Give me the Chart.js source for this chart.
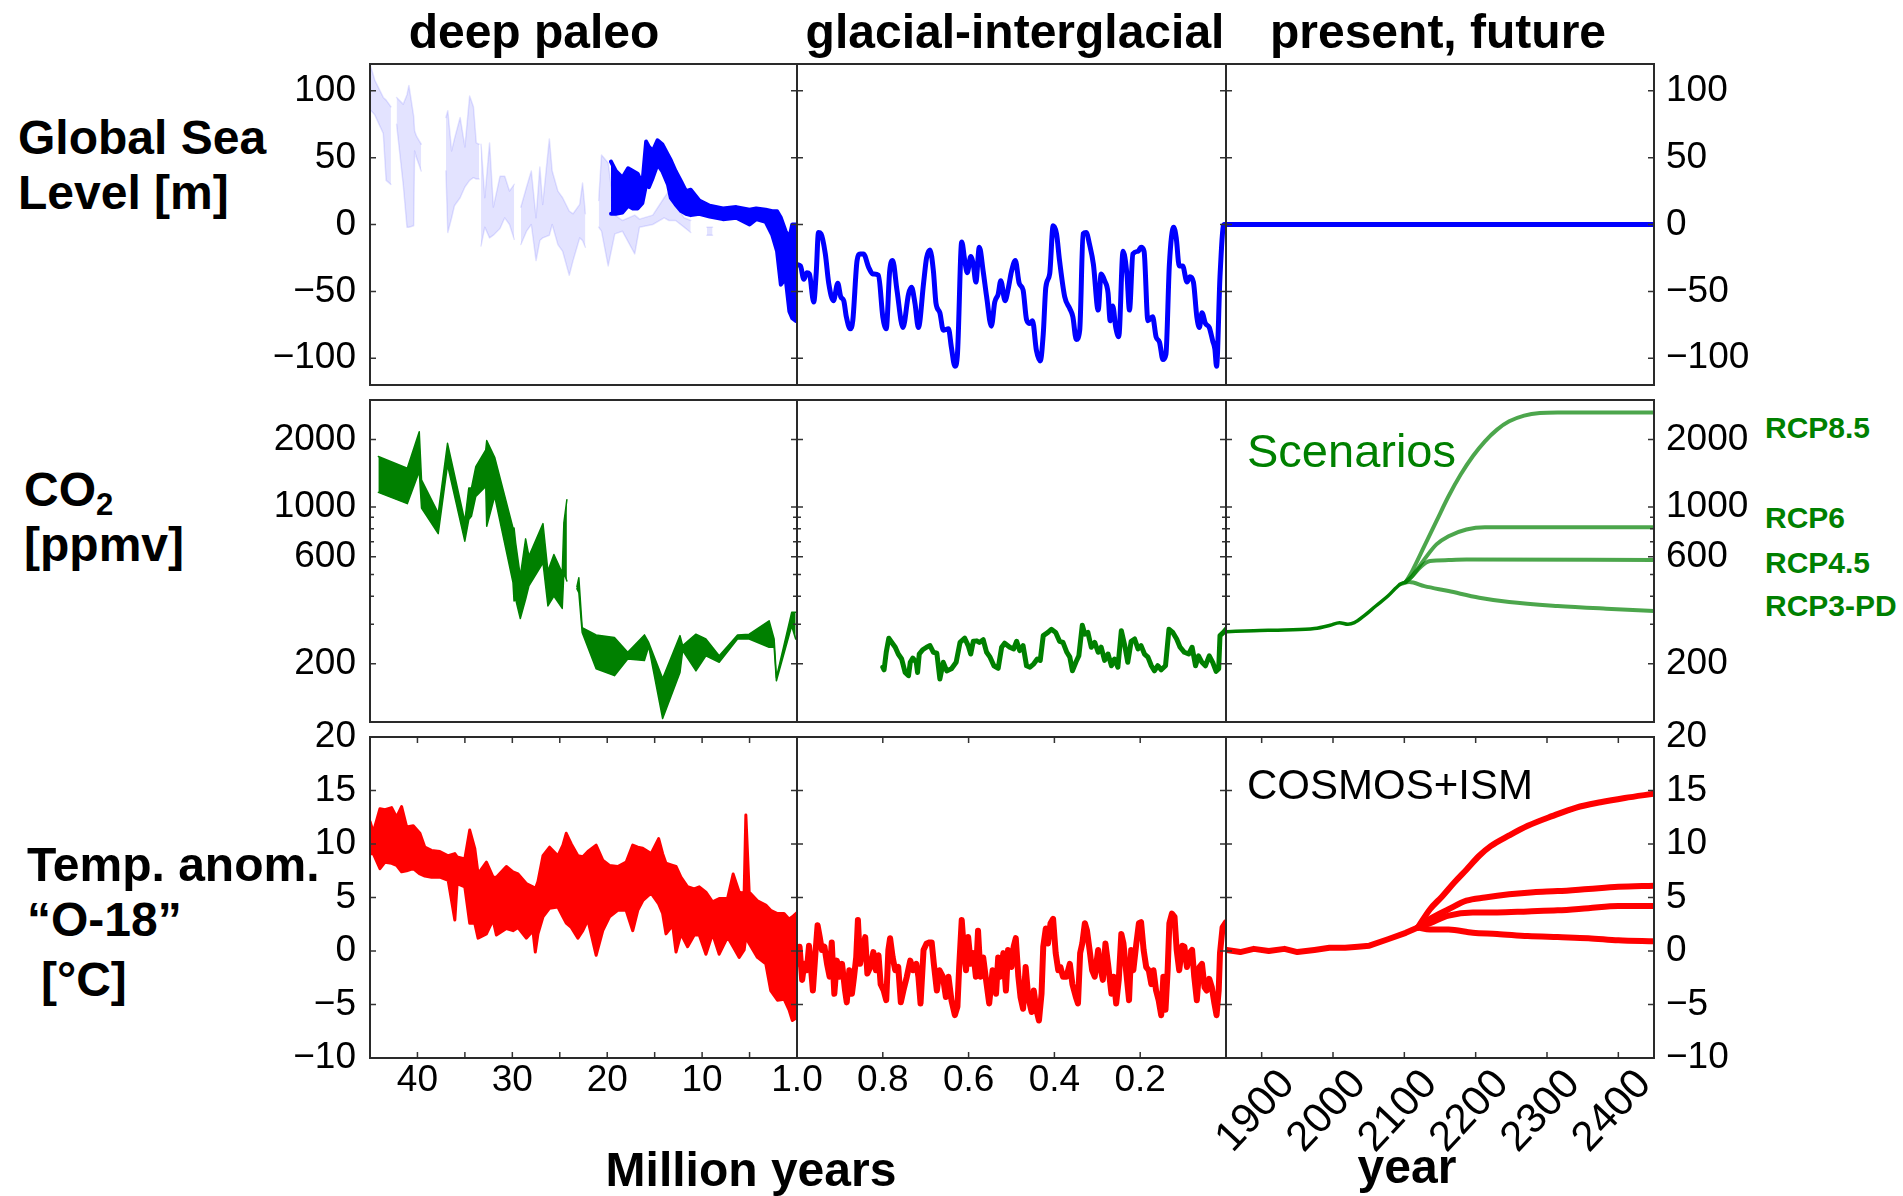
<!DOCTYPE html>
<html>
<head>
<meta charset="utf-8">
<script src="https://cdn.jsdelivr.net/npm/chart.js@4.4.1/dist/chart.umd.min.js"></script>
<style>
  body { margin: 0; background: #fff; width: 1903px; height: 1196px; position: relative; overflow: hidden;
         font-family: 'Liberation Sans', Arial, sans-serif; }
  .panel { position: absolute; }
  .lbl { position: absolute; white-space: nowrap; line-height: 1; }
</style>
</head>
<body>
<script>
// ---------- tick lists ----------
const seaTicks = [-100, -50, 0, 50, 100];
const co2Ticks = [200, 300, 400, 500, 600, 700, 800, 900, 1000, 2000];
const co2Labels = [200, 600, 1000, 2000];
const tempTicks = [-10, -5, 0, 5, 10, 15, 20];
const myrTicks = [5, 10, 15, 20, 25, 30, 35, 40];
const kyrTicks = [0.2, 0.4, 0.6, 0.8, 1.0];
const yearTicks = [1900, 2000, 2100, 2200, 2300, 2400];

// ---------- sea level ----------
// deep paleo, faint reconstruction band (Myr, m); null = gap
const seaPaleoAge = [45.0, 44.5, 43.6, 43.3, 42.8, 42.5, 42.2, 41.5, 41.1, 40.9, 40.4, 40.3, 40.1, 39.6, 38.3,
  37.0, 36.8, 36.4, 36.1, 35.5, 35.0, 34.5, 34.1, 33.8, 33.5, 33.4, 33.3, 32.9, 32.4, 32.0, 31.3, 30.8, 30.3, 29.8, 29.5,
  29.1, 28.5, 28.0, 27.5, 27.1, 26.8, 26.1, 25.8, 25.2, 24.7, 24.0, 23.6, 22.9, 22.6, 22.3, 21.5,
  20.9, 20.6, 19.9, 19.2, 18.4, 17.1, 16.6, 15.2, 14.0, 13.5, 12.8, 11.9, 11.2, 10.5, 9.5, 8.9];
const seaPaleoHi = [120, 108, 95, 93, 88, null, 95, 90, 97, 104, 81, 70, 66, 60, null,
  80, 85, 55, 64, 80, 58, 96, 88, 61, 60, null, 60, 20, 61, 13, 36, 36, 25, 30, null,
  13, 28, 40, 5, 43, 15, 64, 40, 25, 20, 10, 8, 15, 31, 8, null,
  18, 52, 46, 7, 3, 7, 4, 7, 20, 25, 15, 5, 3, null, -2, -2];
const seaPaleoLo = [86, 82, 68, 33, 30, null, 75, 30, -2, -2, -1, 55, 50, 40, null,
  40, -6, 5, 14, 20, 28, 33, 35, 34, 34, null, -16, -2, -10, -8, -3, 5, 0, -11, null,
  -15, -5, 0, -27, -12, -10, -8, 0, -15, -20, -38, -27, -10, -12, -17, null,
  -2, -5, -31, -7, -5, -22, -2, 0, 5, 3, 3, -2, -6, null, -8, -8];
// deep paleo, model band
const seaDeepAge = [19.6, 19.1, 18.4, 17.8, 17.3, 16.8, 16.3, 15.9, 15.6, 15.2, 14.7, 14.2, 13.6, 13.3, 12.8, 12.2,
  11.7, 11.2, 10.3, 9.2, 7.8, 6.4, 5.0, 4.3, 3.3, 2.6, 2.1, 1.7, 1.2, 0.8, 0.5, 0.15, 0.0];
const seaDeepHi = [47, 40, 35, 42, 40, 38, 30, 62, 58, 55, 63, 60, 52, 48, 40, 32, 25, 26, 18, 14, 12, 13, 11, 12, 11,
  10, 10, 5, -5, -10, 0, 0, 0];
const seaDeepLo = [8, 8, 9, 14, 12, 12, 16, 30, 28, 35, 45, 40, 30, 20, 15, 10, 8, 7, 8, 6, 4, 5, 0, 4, 2,
  -8, -20, -45, -40, -65, -70, -72, -70];
// glacial-interglacial
const seaGlacAge = [1.000, 0.992, 0.984, 0.977, 0.971, 0.961, 0.955, 0.950, 0.944, 0.934,
  0.926, 0.915, 0.905, 0.898, 0.891, 0.885, 0.876, 0.870, 0.860, 0.853,
  0.845, 0.833, 0.823, 0.810, 0.800, 0.792, 0.784, 0.777, 0.767, 0.753,
  0.740, 0.733, 0.725, 0.717, 0.705, 0.698, 0.690, 0.682, 0.676, 0.667,
  0.659, 0.647, 0.640, 0.632, 0.626, 0.616, 0.609, 0.603, 0.595, 0.589,
  0.583, 0.575, 0.566, 0.558, 0.547, 0.539, 0.531, 0.525, 0.515, 0.507,
  0.500, 0.491, 0.482, 0.473, 0.465, 0.457, 0.451, 0.442, 0.433, 0.426,
  0.420, 0.411, 0.403, 0.395, 0.388, 0.376, 0.364, 0.357, 0.349, 0.341,
  0.333, 0.326, 0.318, 0.309, 0.298, 0.291, 0.283, 0.275, 0.270, 0.264,
  0.257, 0.250, 0.240, 0.231, 0.225, 0.217, 0.205, 0.198, 0.191, 0.182,
  0.171, 0.163, 0.155, 0.147, 0.140, 0.132, 0.122, 0.116, 0.109, 0.101,
  0.091, 0.084, 0.076, 0.068, 0.062, 0.056, 0.048, 0.039, 0.031, 0.026,
  0.022, 0.014, 0.005, 0.000];
const seaGlacVal = [-30, -31, -41, -36, -37, -58, -35, -6, -7, -22,
  -44, -57, -44, -54, -57, -69, -78, -72, -27, -22,
  -22, -32, -37, -38, -69, -78, -35, -27, -49, -77,
  -52, -47, -59, -77, -44, -25, -19, -35, -59, -66,
  -79, -78, -92, -106, -97, -13, -27, -36, -24, -30,
  -43, -17, -35, -54, -76, -58, -52, -42, -57, -47,
  -35, -27, -44, -49, -71, -74, -72, -94, -102, -82,
  -47, -37, -1, -7, -27, -54, -63, -69, -86, -79,
  -7, -6, -15, -30, -64, -37, -42, -51, -72, -61,
  -77, -84, -20, -37, -64, -22, -20, -17, -20, -72,
  -69, -84, -88, -101, -97, -30, -2, -10, -31, -31,
  -43, -39, -43, -69, -77, -66, -74, -77, -87, -93,
  -106, -39, 0, 0];
// present, future
const seaFutYear = [1850, 2450];
const seaFutVal = [0, 0];

// ---------- CO2 ----------
const co2PaleoAge = [44.12, 41.07, 39.81, 39.57, 37.81, 36.83, 35.01, 34.59, 34.31, 33.85, 32.80, 32.70, 31.86,
  29.93, 29.82, 29.65, 29.16, 28.60, 28.25, 26.77, 26.25, 25.62, 24.74, 24.57, 24.25, 23.7,
  23.20, 22.99, 22.64, 21.17, 19.24, 17.84, 16.08, 15.63, 14.16, 12.33, 12.05, 10.65, 9.60, 8.20, 6.27, 5.04,
  2.94, 2.41, 2.17, 0.56, 0.14];
const co2PaleoHi = [1679, 1489, 2167, 1322, 940, 1923, 864, 1214, 1214, 1515, 1797, 1977, 1667,
  807, 807, 692, 492, 721, 604, 843, 518, 614, 509, 849, 1078, null,
  440, 484, 290, 269, 262, 225, 269, 249, 172, 267, 241, 271, 258, 217, 269, 271,
  311, 258, 174, 339, 339];
const co2PaleoLo = [1162, 1035, 1440, 990, 761, 1541, 704, 879, 909, 1115, 1235, 821, 1115,
  460, 381, 388, 318, 388, 445, 564, 362, 401, 353, 509, 468, null,
  432, 415, 276, 190, 177, 210, 207, 239, 114, 183, 229, 186, 217, 203, 258, 258,
  237, 237, 168, 295, 258];
const co2GlacAge = [0.800, 0.797, 0.792, 0.786, 0.779, 0.771, 0.764, 0.756, 0.748, 0.740,
  0.736, 0.730, 0.722, 0.719, 0.715, 0.707, 0.698, 0.690, 0.682, 0.674,
  0.667, 0.659, 0.651, 0.640, 0.629, 0.620, 0.609, 0.601, 0.595, 0.589,
  0.581, 0.575, 0.566, 0.558, 0.550, 0.541, 0.531, 0.523, 0.516, 0.504,
  0.495, 0.488, 0.481, 0.473, 0.465, 0.457, 0.448, 0.440, 0.433, 0.426,
  0.415, 0.407, 0.397, 0.388, 0.380, 0.371, 0.364, 0.358, 0.350, 0.343,
  0.335, 0.329, 0.322, 0.314, 0.306, 0.298, 0.291, 0.283, 0.275, 0.267,
  0.260, 0.252, 0.244, 0.236, 0.229, 0.221, 0.213, 0.205, 0.198, 0.190,
  0.182, 0.174, 0.167, 0.159, 0.151, 0.141, 0.133, 0.124, 0.115, 0.107,
  0.097, 0.087, 0.079, 0.071, 0.064, 0.056, 0.048, 0.039, 0.031, 0.023,
  0.017, 0.014, 0.006, 0.000];
const co2GlacVal = [193, 188, 225, 260, 249, 237, 221, 210, 183, 177,
  203, 212, 203, 183, 221, 231, 237, 241, 225, 223,
  171, 203, 186, 190, 203, 249, 260, 241, 221, 252,
  253, 249, 256, 225, 214, 196, 191, 237, 247, 237,
  233, 252, 229, 241, 196, 193, 200, 210, 207, 267,
  276, 285, 276, 252, 249, 225, 214, 186, 203, 217,
  297, 271, 276, 237, 249, 225, 237, 207, 221, 196,
  210, 193, 281, 241, 203, 252, 258, 233, 241, 221,
  214, 196, 186, 196, 188, 196, 285, 276, 258, 237,
  225, 221, 237, 196, 217, 203, 196, 217, 203, 185,
  190, 267, 276, 285];
const co2HistYear = [1851, 1889, 1932, 1974, 1996, 2009, 2021, 2030, 2043, 2060, 2077, 2094, 2102];
const co2HistVal = [278, 281, 283, 287, 297, 305, 300, 305, 326, 362, 401, 452, 463];
const rcp85Year = [2102, 2111, 2128, 2145, 2162, 2179, 2196, 2213, 2230, 2247, 2268, 2290, 2315, 2450];
const rcp85Val = [463, 518, 669, 865, 1117, 1395, 1684, 1963, 2213, 2410, 2555, 2627, 2642, 2642];
const rcp6Year = [2102, 2111, 2128, 2145, 2162, 2187, 2213, 2450];
const rcp6Val = [463, 492, 584, 681, 741, 794, 813, 813];
const rcp45Year = [2102, 2111, 2124, 2136, 2162, 2187, 2450];
const rcp45Val = [463, 492, 545, 574, 580, 584, 580];
const rcp3Year = [2094, 2107, 2128, 2162, 2205, 2247, 2315, 2383, 2450];
const rcp3Val = [452, 463, 444, 422, 394, 377, 362, 352, 344];

// ---------- temperature ----------
const tPaleoAge = [45.00, 44.65, 43.95, 43.42, 42.72, 42.20, 41.67, 41.14, 40.44, 39.74, 39.22, 38.52, 37.64, 36.76,
  36.06, 35.82, 35.01, 34.49, 33.96, 33.61, 32.73, 32.03, 31.68, 30.63,
  29.93, 29.40, 28.53, 27.83, 27.58, 27.30, 26.77, 26.07, 25.20, 24.67,
  24.32, 23.79, 23.09, 22.57, 22.04, 21.17, 20.47, 19.76, 18.89, 18.01,
  17.31, 16.78, 16.26, 15.38, 14.58, 14.16, 13.81, 13.10, 12.75, 12.23,
  11.53, 10.83, 10.30, 9.60, 8.90, 8.20, 7.32, 6.73, 6.09, 5.57,
  5.39, 5.04, 4.17, 3.29, 2.77, 2.06, 1.36, 0.84, 0.49, 0.00];
const tPaleoHi = [12.1, 11.1, 13.3, 13.2, 13.4, 12.5, 13.5, 11.6, 11.7, 11.0, 9.7, 9.4, 9.3, 8.9,
  9.1, 8.8, 8.6, 11.3, 9.6, 7.2, 8.3, 6.9, 6.9, 7.9,
  7.4, 7.2, 6.3, 6.0, 5.8, 6.5, 8.9, 9.7, 8.9, 9.9,
  11.0, 10.0, 8.9, 8.8, 9.3, 9.9, 8.5, 8.0, 7.9, 8.3,
  9.9, 9.7, 9.6, 9.1, 10.5, 9.1, 8.2, 8.0, 7.9, 6.9,
  6.0, 5.8, 6.0, 5.5, 4.6, 4.9, 4.9, 7.2, 5.5, 5.4,
  12.7, 5.5, 4.7, 4.3, 3.8, 3.5, 3.5, 3.0, 3.2, 3.6];
const tPaleoLo = [9.1, 9.1, 7.7, 8.3, 8.2, 8.0, 7.4, 7.5, 7.7, 7.2, 7.0, 6.9, 6.9, 6.6,
  2.9, 6.3, 6.0, 2.6, 2.6, 1.2, 1.6, 2.9, 1.5, 2.1,
  1.9, 2.2, 1.2, 1.9, -0.1, 1.6, 3.2, 4.0, 4.1, 3.2,
  2.6, 2.2, 1.2, 1.9, 2.9, -0.4, 1.9, 3.2, 3.8, 3.8,
  1.9, 3.8, 4.7, 5.4, 4.4, 3.5, 1.6, 2.4, -0.1, 1.6,
  0.4, 1.5, 1.5, -0.3, 1.6, -0.3, 1.3, 0.4, -0.6, 0.1,
  1.3, 0.7, -0.6, -1.2, -3.7, -4.6, -4.5, -5.5, -6.5, -6.2];
const tGlacAge = [1.000, 0.994, 0.988, 0.983, 0.977, 0.972, 0.967, 0.963, 0.957, 0.952,
  0.947, 0.942, 0.936, 0.930, 0.924, 0.919, 0.913, 0.907, 0.901, 0.895,
  0.888, 0.884, 0.878, 0.872, 0.867, 0.862, 0.858, 0.853, 0.847, 0.841,
  0.836, 0.829, 0.822, 0.816, 0.810, 0.805, 0.798, 0.792, 0.787, 0.783,
  0.777, 0.771, 0.764, 0.758, 0.752, 0.744, 0.736, 0.729, 0.722, 0.717,
  0.712, 0.705, 0.698, 0.691, 0.686, 0.681, 0.674, 0.668, 0.660, 0.653,
  0.647, 0.640, 0.632, 0.626, 0.622, 0.616, 0.611, 0.606, 0.601, 0.595,
  0.589, 0.583, 0.578, 0.572, 0.566, 0.558, 0.552, 0.544, 0.536, 0.531,
  0.526, 0.519, 0.513, 0.508, 0.500, 0.495, 0.490, 0.484, 0.479, 0.473,
  0.467, 0.461, 0.453, 0.448, 0.442, 0.436, 0.430, 0.426, 0.420, 0.415,
  0.409, 0.403, 0.397, 0.391, 0.386, 0.380, 0.372, 0.364, 0.358, 0.350,
  0.345, 0.340, 0.335, 0.329, 0.324, 0.318, 0.312, 0.306, 0.298, 0.293,
  0.287, 0.281, 0.275, 0.267, 0.262, 0.256, 0.250, 0.244, 0.239, 0.233,
  0.226, 0.221, 0.216, 0.209, 0.203, 0.198, 0.192, 0.186, 0.180, 0.174,
  0.169, 0.163, 0.157, 0.151, 0.146, 0.141, 0.136, 0.132, 0.126, 0.120,
  0.115, 0.109, 0.102, 0.097, 0.091, 0.085, 0.079, 0.074, 0.068, 0.062,
  0.056, 0.050, 0.045, 0.039, 0.033, 0.027, 0.022, 0.017, 0.014, 0.008,
  0.000];
const tGlacVal = [-1.2, 0.4, -2.7, -1.2, -1.8, 0.5, -1.8, -3.7, -0.2, 2.4,
  1.3, 0.1, 0.4, -1.2, -2.4, 0.8, -4.0, -0.9, -2.4, -1.2,
  -3.7, -4.8, -1.8, -4.0, -2.4, -0.6, 2.9, -1.2, 0.1, 1.3,
  -2.1, -1.5, -0.1, -1.8, -0.4, -3.1, -3.7, -4.6, 0.1, 1.2,
  -0.6, -1.8, -1.5, -4.8, -3.7, -2.4, -0.9, -1.8, -1.2, -2.4,
  -4.9, 0.1, 0.7, 0.8, 0.8, -1.2, -3.7, -1.8, -2.4, -4.3,
  -2.4, -4.6, -6.0, -5.2, -1.5, 2.9, 0.1, -1.8, 1.3, -1.2,
  -0.2, -2.4, 1.9, -2.4, -0.6, -3.1, -4.9, -1.8, -4.0, -0.6,
  -2.4, -0.2, -3.7, 0.1, -1.5, 0.4, 1.2, -2.4, -4.3, -5.4,
  -1.5, -4.3, -5.7, -3.7, -5.5, -6.5, -4.0, 0.4, 2.1, 0.7,
  2.6, 3.0, -0.2, -1.8, -1.5, -2.4, -2.4, -1.2, -3.1, -4.3,
  -4.9, -0.2, 0.7, 2.6, 1.9, 0.1, -1.8, -2.4, 0.1, -1.5,
  -2.7, 0.7, -1.2, -4.0, -2.4, -4.9, -2.7, 1.6, 0.7, -1.8,
  -4.6, 0.1, -1.8, 0.7, 2.6, 2.7, 0.1, -1.5, -1.8, -3.1,
  -1.8, -3.7, -4.6, -6.0, -2.4, -5.5, -1.8, 2.6, 3.5, 3.2,
  0.1, -1.8, 0.5, 0.4, -1.5, -0.2, 0.1, -2.4, -4.6, -1.5,
  -1.2, -3.4, -3.7, -2.6, -3.4, -4.9, -6.0, -3.7, -0.2, 2.2,
  2.7];
const tHistYear = [1851, 1870, 1889, 1910, 1932, 1950, 1974, 1995, 2017, 2035, 2051, 2077, 2102, 2119];
const tHistVal = [0.1, -0.1, 0.2, 0.0, 0.2, -0.1, 0.1, 0.3, 0.3, 0.4, 0.5, 1.1, 1.7, 2.2];
const t85Year = [2119, 2136, 2153, 2170, 2187, 2205, 2221, 2247, 2273, 2307, 2341, 2375, 2409, 2450];
const t85Val = [2.2, 3.9, 5.1, 6.4, 7.6, 8.9, 9.8, 10.8, 11.7, 12.6, 13.4, 13.9, 14.3, 14.7];
const t6Year = [2119, 2136, 2162, 2187, 2213, 2247, 2281, 2315, 2358, 2400, 2450];
const t6Val = [2.2, 3.0, 3.9, 4.7, 5.0, 5.3, 5.5, 5.6, 5.8, 6.0, 6.1];
const t45Year = [2119, 2136, 2162, 2196, 2230, 2273, 2315, 2358, 2400, 2450];
const t45Val = [2.2, 2.6, 3.3, 3.6, 3.6, 3.7, 3.8, 4.0, 4.2, 4.2];
const t3Year = [2119, 2136, 2162, 2196, 2230, 2273, 2315, 2358, 2400, 2450];
const t3Val = [2.2, 2.0, 2.0, 1.7, 1.6, 1.4, 1.3, 1.2, 1.0, 0.9];

// ---------- layout ----------
const P = 100;
const colX = [370, 797, 1226], colW = [427, 429, 428];
const rowY = [64, 400, 737], rowH = [321, 322, 321];
const FONT = "'Liberation Sans', Arial, sans-serif";
const BLUE = '#0000ff', GREEN = '#008000', RED = '#ff0000';

const pts = (xs, ys) => xs.map((x, i) => ({ x: x, y: ys[i] }));
const minus = v => (v < 0 ? '\u2212' + Math.abs(v) : String(v));

function line(xs, ys, color, width, extra) {
  return Object.assign({ data: pts(xs, ys), borderColor: color, borderWidth: width, fill: false,
    pointRadius: 0, spanGaps: false, borderJoinStyle: 'round', borderCapStyle: 'round' }, extra || {});
}
function band(xs, hi, lo, fillColor, edgeColor, width) {
  return [
    line(xs, hi, edgeColor, width, { fill: '+1', backgroundColor: fillColor }),
    line(xs, lo, edgeColor, width)
  ];
}

// inward tick marks and the panel frame
const frame = {
  id: 'frame',
  afterDatasetsDraw(chart, args, opts) {
    const { ctx, chartArea: a, scales } = chart;
    ctx.save();
    ctx.strokeStyle = '#333';
    ctx.lineWidth = 1.5;
    ctx.beginPath();
    if (opts.xTicks) {
      scales.x.ticks.forEach(t => {
        const p = scales.x.getPixelForValue(t.value);
        ctx.moveTo(p, a.top); ctx.lineTo(p, a.top + 6);
        ctx.moveTo(p, a.bottom); ctx.lineTo(p, a.bottom - 6);
      });
    }
    scales.y.ticks.forEach(t => {
      const p = scales.y.getPixelForValue(t.value);
      const len = opts.minor && !opts.minor(t.value) ? 4 : 6;
      ctx.moveTo(a.left, p); ctx.lineTo(a.left + len, p);
      ctx.moveTo(a.right, p); ctx.lineTo(a.right - len, p);
    });
    ctx.stroke();
    ctx.strokeStyle = '#2a2a2a';
    ctx.lineWidth = 2;
    ctx.strokeRect(a.left, a.top, a.width, a.height);
    ctx.restore();
  }
};

const xAxes = [
  { min: 0, max: 45, reverse: true, list: myrTicks, label: v => (v % 10 === 0 ? String(v) : ''), rot: 0 },
  { min: 0, max: 1, reverse: true, list: kyrTicks, label: v => v.toFixed(1), rot: 0 },
  { min: 1850, max: 2450, reverse: false, list: yearTicks, label: v => String(v), rot: 47 }
];
const yAxes = [
  { type: 'linear', min: -120, max: 120, list: seaTicks, label: minus },
  { type: 'logarithmic', min: 110, max: 3000, list: co2Ticks, label: v => (co2Labels.includes(v) ? String(v) : ''),
    minor: v => co2Labels.includes(v) },
  { type: 'linear', min: -10, max: 20, list: tempTicks, label: minus }
];

function panel(r, c, datasets) {
  const W = colW[c] + 2 * P, H = rowH[r] + 2 * P;
  const div = document.createElement('div');
  div.className = 'panel';
  div.style.left = (colX[c] - P) + 'px';
  div.style.top = (rowY[r] - P) + 'px';
  const cv = document.createElement('canvas');
  cv.width = W; cv.height = H;
  cv.style.width = W + 'px'; cv.style.height = H + 'px';
  div.appendChild(cv);
  document.body.appendChild(div);

  const showX = r === 2, yLeft = c === 0, yRight = c === 2;
  const xa = xAxes[c], ya = yAxes[r];
  new Chart(cv, {
    type: 'line',
    data: { datasets: datasets },
    options: {
      responsive: false,
      animation: false,
      events: [],
      devicePixelRatio: 1,
      layout: { padding: { top: P, bottom: showX ? 0 : P, left: yLeft ? 0 : P, right: yRight ? 0 : P } },
      plugins: { legend: { display: false }, tooltip: { enabled: false }, frame: { xTicks: showX, minor: ya.minor } },
      scales: {
        x: {
          type: 'linear', min: xa.min, max: xa.max, reverse: xa.reverse, position: 'bottom',
          grid: { display: false }, border: { display: false },
          ticks: {
            display: showX, autoSkip: false, minRotation: xa.rot, maxRotation: xa.rot,
            labelOffset: xa.rot ? 26 : 0, padding: xa.rot ? -6 : -7,
            font: { family: FONT, size: xa.rot ? 42 : 37 }, color: '#000',
            callback: v => xa.label(v)
          },
          afterBuildTicks: s => { s.ticks = xa.list.map(v => ({ value: v })); },
          afterFit: s => { s.height = showX ? P : 0; }
        },
        y: {
          type: ya.type, min: ya.min, max: ya.max, position: yRight ? 'right' : 'left',
          grid: { display: false }, border: { display: false },
          ticks: {
            display: yLeft || yRight, autoSkip: false, padding: yRight ? 4 : 6,
            font: { family: FONT, size: 37 }, color: '#000',
            callback: v => ya.label(v)
          },
          afterBuildTicks: s => { s.ticks = ya.list.map(v => ({ value: v })); },
          afterFit: s => { s.width = (yLeft || yRight) ? P : 0; }
        }
      }
    },
    plugins: [frame]
  });
}

// row 1: sea level
panel(0, 0, [
  ...band(seaDeepAge, seaDeepHi, seaDeepLo, BLUE, BLUE, 4),
  ...band(seaPaleoAge, seaPaleoHi, seaPaleoLo, 'rgba(0,0,255,0.11)', 'rgba(0,0,255,0.11)', 1.5)
]);
panel(0, 1, [line(seaGlacAge, seaGlacVal, BLUE, 5, { cubicInterpolationMode: 'monotone' })]);
panel(0, 2, [line(seaFutYear, seaFutVal, BLUE, 5)]);

// row 2: CO2
panel(1, 0, band(co2PaleoAge, co2PaleoHi, co2PaleoLo, GREEN, GREEN, 1.5));
panel(1, 1, [line(co2GlacAge, co2GlacVal, GREEN, 5)]);
const scen = 'rgba(0,128,0,0.7)';
panel(1, 2, [
  line(co2HistYear, co2HistVal, GREEN, 3.5, { cubicInterpolationMode: 'monotone' }),
  line(rcp85Year, rcp85Val, scen, 4, { cubicInterpolationMode: 'monotone' }),
  line(rcp6Year, rcp6Val, scen, 4, { cubicInterpolationMode: 'monotone' }),
  line(rcp45Year, rcp45Val, scen, 4, { cubicInterpolationMode: 'monotone' }),
  line(rcp3Year, rcp3Val, scen, 4, { cubicInterpolationMode: 'monotone' })
]);

// row 3: temperature
panel(2, 0, band(tPaleoAge, tPaleoHi, tPaleoLo, RED, RED, 3));
panel(2, 1, [line(tGlacAge, tGlacVal, RED, 6)]);
panel(2, 2, [
  line(tHistYear, tHistVal, RED, 6),
  line(t85Year, t85Val, RED, 6, { cubicInterpolationMode: 'monotone' }),
  line(t6Year, t6Val, RED, 6, { cubicInterpolationMode: 'monotone' }),
  line(t45Year, t45Val, RED, 6, { cubicInterpolationMode: 'monotone' }),
  line(t3Year, t3Val, RED, 6, { cubicInterpolationMode: 'monotone' })
]);

// ---------- texts ----------
function text(html, x, base, size, opts) {
  opts = opts || {};
  const d = document.createElement('div');
  d.className = 'lbl';
  d.innerHTML = html;
  d.style.fontSize = size + 'px';
  d.style.fontWeight = opts.bold ? 'bold' : 'normal';
  d.style.color = opts.color || '#000';
  d.style.top = (base - size * 0.8465) + 'px';
  d.style.left = x + 'px';
  if (opts.center) d.style.transform = 'translateX(-50%)';
  document.body.appendChild(d);
}
const B = { bold: true };
const BC = { bold: true, center: true };
text('deep paleo', 534, 49, 48, BC);
text('glacial-interglacial', 1015, 49, 48, BC);
text('present, future', 1438, 49, 48, BC);
text('Global Sea', 18, 155, 48, B);
text('Level [m]', 18, 210, 48, B);
text('CO<span style="font-size:31px;position:relative;top:9px">2</span>', 24, 507, 48, B);
text('[ppmv]', 24, 562, 48, B);
text('Temp. anom.', 27, 882, 48, B);
text('\u201cO-18\u201d', 27, 937, 48, B);
text('[\u00b0C]', 41, 997, 48, B);
text('Million years', 751, 1187, 48, BC);
text('year', 1407, 1184, 48, BC);
text('Scenarios', 1247, 467, 47, { color: GREEN });
text('COSMOS+ISM', 1247, 800, 42);
text('RCP8.5', 1765, 438, 30, { bold: true, color: GREEN });
text('RCP6', 1765, 528, 30, { bold: true, color: GREEN });
text('RCP4.5', 1765, 573, 30, { bold: true, color: GREEN });
text('RCP3-PD', 1765, 616, 30, { bold: true, color: GREEN });
</script>
</body>
</html>
